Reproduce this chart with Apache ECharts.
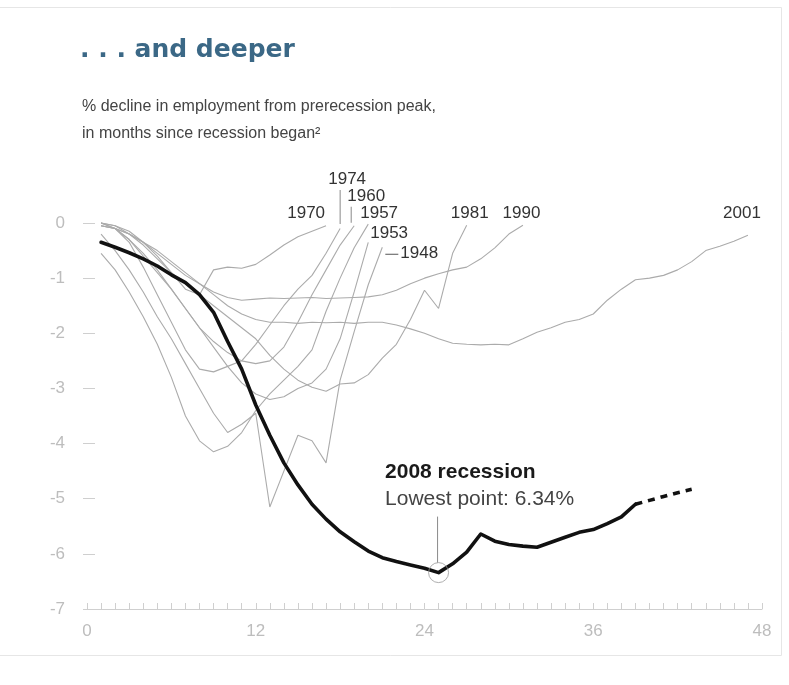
<!DOCTYPE html>
<html>
<head>
<meta charset="utf-8">
<script src="https://cdn.jsdelivr.net/npm/echarts@6/dist/echarts.min.js"></script>
<style>
  html, body { margin: 0; padding: 0; background: #fff; }
  #chart { width: 789px; height: 685px; }
</style>
</head>
<body>
<div id="chart"></div>
<script>
// Payroll employment, % below the prerecession peak, by month since each recession began.
// Every series starts at month 1.
const FIRST_MONTH = 1;

const r1948 = [-0.2, -0.5, -0.85, -1.25, -1.7, -2.1, -2.55, -3.0, -3.45, -3.8, -3.65, -3.45, -5.15, -4.5, -3.85, -3.95, -4.35, -2.85, -1.97, -1.12, -0.44];
const r1953 = [-0.05, -0.1, -0.3, -0.55, -0.85, -1.2, -1.55, -1.9, -2.25, -2.6, -2.9, -3.1, -3.2, -3.15, -3.0, -2.9, -2.65, -2.1, -1.25, -0.35];
const r1957 = [-0.55, -0.85, -1.25, -1.7, -2.2, -2.8, -3.5, -3.95, -4.15, -4.05, -3.8, -3.4, -3.1, -2.85, -2.6, -2.3, -1.6, -1.0, -0.45, -0.02];
const r1960 = [0, -0.1, -0.3, -0.6, -0.9, -1.2, -1.55, -1.9, -2.15, -2.35, -2.5, -2.55, -2.5, -2.25, -1.8, -1.3, -0.85, -0.4, -0.05];
const r1970 = [0, -0.05, -0.15, -0.35, -0.6, -0.9, -1.2, -1.3, -0.85, -0.8, -0.82, -0.75, -0.58, -0.4, -0.25, -0.15, -0.05];
const r1974 = [0, -0.1, -0.35, -0.8, -1.3, -1.8, -2.3, -2.65, -2.7, -2.6, -2.5, -2.2, -1.85, -1.5, -1.2, -0.95, -0.55, -0.1];
const r1981 = [0, -0.05, -0.2, -0.4, -0.65, -0.9, -1.1, -1.3, -1.5, -1.7, -1.9, -2.1, -2.4, -2.65, -2.85, -2.98, -3.05, -2.92, -2.9, -2.75, -2.45, -2.2, -1.75, -1.22, -1.55, -0.55, -0.04];
const r1990 = [-0.05, -0.1, -0.2, -0.35, -0.55, -0.75, -0.95, -1.1, -1.25, -1.35, -1.4, -1.38, -1.36, -1.37, -1.36, -1.35, -1.37, -1.36, -1.35, -1.34, -1.3, -1.22, -1.1, -1.0, -0.92, -0.85, -0.8, -0.65, -0.45, -0.2, -0.04];
const r2001 = [-0.05, -0.1, -0.2, -0.35, -0.5, -0.7, -0.9, -1.1, -1.3, -1.5, -1.65, -1.75, -1.8, -1.8, -1.82, -1.8, -1.81, -1.8, -1.82, -1.8, -1.8, -1.85, -1.92, -2.0, -2.1, -2.18, -2.2, -2.21, -2.2, -2.21, -2.1, -1.98, -1.9, -1.8, -1.75, -1.65, -1.4, -1.2, -1.03, -1.0, -0.95, -0.85, -0.7, -0.5, -0.42, -0.33, -0.22];

const pastNames = ['1948', '1953', '1957', '1960', '1970', '1974', '1981', '1990', '2001'];
const pastValues = [r1948, r1953, r1957, r1960, r1970, r1974, r1981, r1990, r2001];

// 2008 recession: actual months, then the projected continuation
const rec2008 = [-0.35, -0.44, -0.54, -0.65, -0.78, -0.94, -1.08, -1.3, -1.62, -2.15, -2.65, -3.3, -3.85, -4.35, -4.75, -5.1, -5.37, -5.6, -5.78, -5.95, -6.07, -6.14, -6.2, -6.26, -6.34, -6.18, -5.97, -5.64, -5.77, -5.83, -5.86, -5.88, -5.79, -5.7, -5.61, -5.56, -5.45, -5.33, -5.1];
const PROJECTION_FIRST_MONTH = 39;
const rec2008Projection = [-5.1, -5.03, -4.96, -4.89, -4.83];
const LOW_MONTH = 25;
const LOW_VALUE = -6.34;

// Axis ticks
const monthTicks = [0, 12, 24, 36, 48];
const percentTicks = [0, -1, -2, -3, -4, -5, -6, -7];

const toPoints = (values, start) => values.map((v, i) => [start + i, v]);

const FONT = '"Liberation Sans", Arial, Helvetica, sans-serif';
const GRAY_LINE = '#ababab';
const AXIS_GRAY = '#cfcfcf';
const TICK_TEXT = '#bdbdbd';

const chart = echarts.init(document.getElementById('chart'), null, { renderer: 'canvas' });

const series = pastNames.map((name, i) => ({
  name,
  type: 'line',
  data: toPoints(pastValues[i], FIRST_MONTH),
  showSymbol: false,
  symbol: 'none',
  smooth: false,
  clip: false,
  silent: true,
  z: 2,
  lineStyle: { color: GRAY_LINE, width: 1.1 }
}));

series.push({
  name: '2008',
  type: 'line',
  data: toPoints(rec2008, FIRST_MONTH),
  symbol: 'none',
  clip: false,
  silent: true,
  z: 4,
  lineStyle: { color: '#111', width: 3.6, join: 'round', cap: 'round' }
});

series.push({
  name: '2008 projection',
  type: 'line',
  data: toPoints(rec2008Projection, PROJECTION_FIRST_MONTH),
  symbol: 'none',
  clip: false,
  silent: true,
  z: 4,
  lineStyle: { color: '#111', width: 3.6, type: [7, 6] }
});

series.push({
  name: 'Lowest point',
  type: 'scatter',
  data: [[LOW_MONTH, LOW_VALUE]],
  symbol: 'circle',
  symbolSize: 20,
  silent: true,
  z: 5,
  itemStyle: { color: 'rgba(255,255,255,0)', borderColor: '#9a9a9a', borderWidth: 1 }
});

const option = {
  animation: false,
  backgroundColor: '#fff',
  grid: { left: 87, right: 27, top: 223, bottom: 76 },
  xAxis: {
    type: 'value',
    min: monthTicks[0],
    max: monthTicks[monthTicks.length - 1],
    interval: monthTicks[1] - monthTicks[0],
    axisLine: { show: true, onZero: false, lineStyle: { color: AXIS_GRAY, width: 1 } },
    axisTick: { show: true, inside: true, length: 6, lineStyle: { color: AXIS_GRAY } },
    minorTick: { show: true, splitNumber: 12, length: 6, lineStyle: { color: AXIS_GRAY } },
    splitLine: { show: false },
    axisLabel: { color: TICK_TEXT, fontFamily: FONT, fontSize: 17, margin: 14 }
  },
  yAxis: {
    type: 'value',
    min: percentTicks[percentTicks.length - 1],
    max: percentTicks[0],
    interval: 1,
    offset: -8,
    axisLine: { show: false },
    axisTick: { show: true, inside: false, length: 12, lineStyle: { color: AXIS_GRAY } },
    splitLine: { show: false },
    axisLabel: { color: TICK_TEXT, fontFamily: FONT, fontSize: 17, margin: 30 }
  },
  series
};

chart.setOption(option);

// Year labels beside each historical line's final month (pixel offsets from that point)
const labelLayout = {
  '1970': { dx: -1, dy: -12.5, align: 'right' },
  '1974': { dx: 7, dy: -49.5, align: 'center', leader: [0, -38.5, -4.5] },
  '1960': { dx: 12, dy: -29, align: 'center', leader: [-3, -19, -3] },
  '1957': { dx: -8, dy: -10.5, align: 'left' },
  '1953': { dx: 2, dy: -8.5, align: 'left' },
  '1948': { dx: 18, dy: 6, align: 'left', dash: [3, 16, 7] },
  '1981': { dx: 3, dy: -11.5, align: 'center' },
  '1990': { dx: -1.5, dy: -11.5, align: 'center' },
  '2001': { dx: -6, dy: -21.5, align: 'center' }
};

const toPx = (m, v) => chart.convertToPixel({ gridIndex: 0 }, [m, v]);
const graphics = [];

pastNames.forEach((name, i) => {
  const vals = pastValues[i];
  const lastMonth = FIRST_MONTH + vals.length - 1;
  const p = toPx(lastMonth, vals[vals.length - 1]);
  const L = labelLayout[name];
  graphics.push({
    type: 'text',
    silent: true,
    style: {
      x: p[0] + L.dx, y: p[1] + L.dy,
      text: name, fill: '#333', font: '17px ' + FONT,
      align: L.align, verticalAlign: 'middle'
    },
    z: 10
  });
  if (L.leader) {
    graphics.push({
      type: 'line', silent: true, z: 10,
      shape: { x1: p[0] + L.leader[0], y1: p[1] + L.leader[1], x2: p[0] + L.leader[0], y2: p[1] + L.leader[2] },
      style: { stroke: '#888', lineWidth: 1 }
    });
  }
  if (L.dash) {
    graphics.push({
      type: 'line', silent: true, z: 10,
      shape: { x1: p[0] + L.dash[0], y1: p[1] + L.dash[2], x2: p[0] + L.dash[1], y2: p[1] + L.dash[2] },
      style: { stroke: '#555', lineWidth: 1 }
    });
  }
});

// Callout for the 2008 low point
const low = toPx(LOW_MONTH, LOW_VALUE);
graphics.push(
  {
    type: 'line', silent: true, z: 10,
    shape: { x1: low[0] - 1, y1: low[1] - 56, x2: low[0] - 1, y2: low[1] - 10 },
    style: { stroke: '#8a8a8a', lineWidth: 1 }
  },
  {
    type: 'text', silent: true, z: 10,
    style: {
      x: low[0] - 53.5, y: low[1] - 100.5,
      text: '2008 recession', fill: '#1a1a1a', font: 'bold 21px ' + FONT,
      align: 'left', verticalAlign: 'middle'
    }
  },
  {
    type: 'text', silent: true, z: 10,
    style: {
      x: low[0] - 53.5, y: low[1] - 73,
      text: 'Lowest point: 6.34%', fill: '#444', font: '21px ' + FONT,
      align: 'left', verticalAlign: 'middle'
    }
  }
);

// Heading and axis description
graphics.push(
  {
    type: 'text', silent: true,
    style: {
      x: 80, y: 50, text: '. . . and deeper', fill: '#3b6886',
      font: 'bold 25px "DejaVu Sans", Verdana, sans-serif',
      align: 'left', verticalAlign: 'middle'
    }
  },
  {
    type: 'text', silent: true,
    style: {
      x: 82, y: 107, text: '% decline in employment from prerecession peak,', fill: '#444',
      font: '16px ' + FONT, align: 'left', verticalAlign: 'middle'
    }
  },
  {
    type: 'text', silent: true,
    style: {
      x: 82, y: 134, text: 'in months since recession began\u00B2', fill: '#444',
      font: '16px ' + FONT, align: 'left', verticalAlign: 'middle'
    }
  },
  {
    type: 'rect', silent: true, z: -1,
    shape: { x: -1, y: 7.5, width: 782.5, height: 648 },
    style: { fill: 'none', stroke: '#e6e6e6', lineWidth: 1 }
  }
);

chart.setOption({ graphic: graphics });
</script>
</body>
</html>
